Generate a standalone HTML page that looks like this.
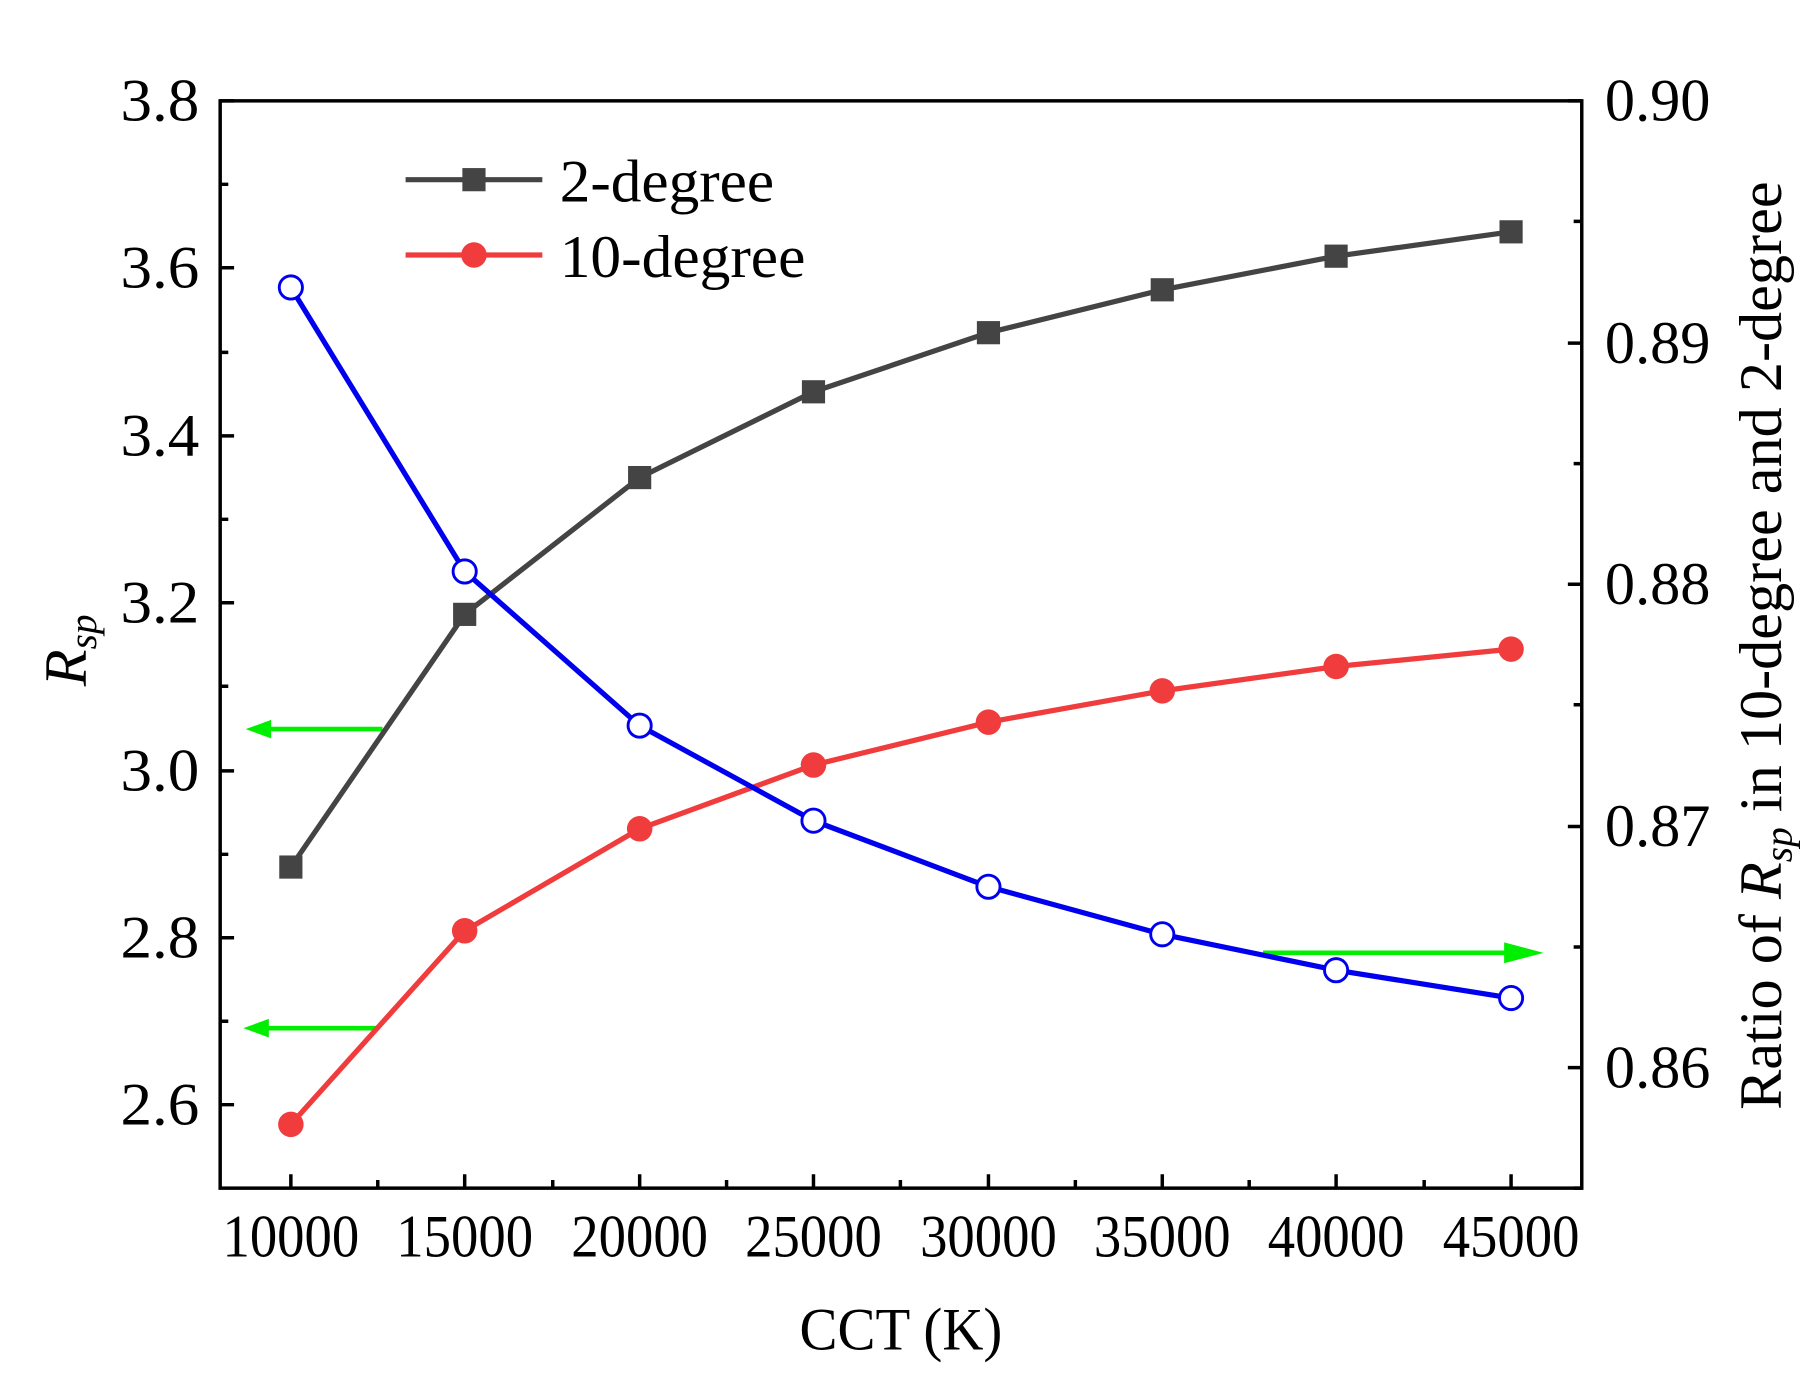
<!DOCTYPE html>
<html><head><meta charset="utf-8"><style>html,body{margin:0;padding:0;background:#fff}svg{display:block}text{font-family:"Liberation Serif",serif;fill:#000}</style></head>
<body>
<svg width="1817" height="1391" viewBox="0 0 1568 1200" preserveAspectRatio="none" xmlns="http://www.w3.org/2000/svg">
<rect width="1568" height="1200" fill="#fff"/>
<g stroke="#000" stroke-width="3" fill="none">
<rect x="190" y="87" width="1175" height="938"/>
<path d="M190 87h12M190 231h12M190 376h12M190 520h12M190 665h12M190 809h12M190 953h12M190 159h7M190 304h7M190 448h7M190 592h7M190 737h7M190 881h7"/>
<path d="M1365 87h-12M1365 296h-12M1365 504h-12M1365 713h-12M1365 921h-12M1365 191h-7M1365 400h-7M1365 608h-7M1365 817h-7M1365 1025h-7"/>
<path d="M251 1025v-12M401 1025v-12M552 1025v-12M702 1025v-12M853 1025v-12M1003 1025v-12M1153 1025v-12M1304 1025v-12M326 1025v-7M477 1025v-7M627 1025v-7M777 1025v-7M928 1025v-7M1078 1025v-7M1229 1025v-7"/>
</g>
<g font-size="52">
<text x="104" y="104" textLength="68" lengthAdjust="spacingAndGlyphs">3.8</text><text x="104" y="248" textLength="68" lengthAdjust="spacingAndGlyphs">3.6</text><text x="104" y="393" textLength="68" lengthAdjust="spacingAndGlyphs">3.4</text><text x="104" y="537" textLength="68" lengthAdjust="spacingAndGlyphs">3.2</text><text x="104" y="682" textLength="68" lengthAdjust="spacingAndGlyphs">3.0</text><text x="104" y="826" textLength="68" lengthAdjust="spacingAndGlyphs">2.8</text><text x="104" y="970" textLength="68" lengthAdjust="spacingAndGlyphs">2.6</text>
<text x="1385" y="104" textLength="91" lengthAdjust="spacingAndGlyphs">0.90</text><text x="1385" y="313" textLength="91" lengthAdjust="spacingAndGlyphs">0.89</text><text x="1385" y="521" textLength="91" lengthAdjust="spacingAndGlyphs">0.88</text><text x="1385" y="730" textLength="91" lengthAdjust="spacingAndGlyphs">0.87</text><text x="1385" y="938" textLength="91" lengthAdjust="spacingAndGlyphs">0.86</text>
<text x="192" y="1084" textLength="118" lengthAdjust="spacingAndGlyphs">10000</text><text x="342" y="1084" textLength="118" lengthAdjust="spacingAndGlyphs">15000</text><text x="493" y="1084" textLength="118" lengthAdjust="spacingAndGlyphs">20000</text><text x="643" y="1084" textLength="118" lengthAdjust="spacingAndGlyphs">25000</text><text x="794" y="1084" textLength="118" lengthAdjust="spacingAndGlyphs">30000</text><text x="944" y="1084" textLength="118" lengthAdjust="spacingAndGlyphs">35000</text><text x="1094" y="1084" textLength="118" lengthAdjust="spacingAndGlyphs">40000</text><text x="1245" y="1084" textLength="118" lengthAdjust="spacingAndGlyphs">45000</text>
<text x="690" y="1164" textLength="175" lengthAdjust="spacingAndGlyphs">CCT (K)</text>
</g>
<text font-size="52" transform="translate(74,592) rotate(-90)"><tspan font-style="italic">R</tspan><tspan font-style="italic" font-size="34" dy="9">sp</tspan></text>
<text font-size="52" text-anchor="middle" transform="translate(1537,557) rotate(-90)">Ratio of <tspan font-style="italic">R</tspan><tspan font-style="italic" font-size="34" dy="9">sp</tspan><tspan dy="-9"> in 10-degree and 2-degree</tspan></text>
<g stroke="#00ee00" stroke-width="4" fill="#00ee00">
<path d="M330 629H225"/><path d="M212 629l22-8v16z" stroke="none"/>
<path d="M325 887H223"/><path d="M210 887l22-8v16z" stroke="none"/>
<path d="M1090 822H1318"/><path d="M1332 822l-34-9v18z" stroke="none"/>
</g>
<polyline fill="none" stroke="#444" stroke-width="4.5" points="251,748 401,530 552,412 702,338 853,287 1003,250 1153,221 1304,200"/>
<g fill="#444"><rect x="241" y="738" width="20" height="20"/><rect x="391" y="520" width="20" height="20"/><rect x="542" y="402" width="20" height="20"/><rect x="692" y="328" width="20" height="20"/><rect x="843" y="277" width="20" height="20"/><rect x="993" y="240" width="20" height="20"/><rect x="1143" y="211" width="20" height="20"/><rect x="1294" y="190" width="20" height="20"/></g>
<polyline fill="none" stroke="#f03c3c" stroke-width="4.5" points="251,970 401,803 552,715 702,660 853,623 1003,596 1153,575 1304,560"/>
<g fill="#f03c3c"><circle cx="251" cy="970" r="11"/><circle cx="401" cy="803" r="11"/><circle cx="552" cy="715" r="11"/><circle cx="702" cy="660" r="11"/><circle cx="853" cy="623" r="11"/><circle cx="1003" cy="596" r="11"/><circle cx="1153" cy="575" r="11"/><circle cx="1304" cy="560" r="11"/></g>
<polyline fill="none" stroke="#0000ee" stroke-width="4.5" points="251,248 401,493 552,626 702,708 853,765 1003,806 1153,837 1304,861"/>
<g fill="#fff" stroke="#0000ee" stroke-width="2.5"><circle cx="251" cy="248" r="10"/><circle cx="401" cy="493" r="10"/><circle cx="552" cy="626" r="10"/><circle cx="702" cy="708" r="10"/><circle cx="853" cy="765" r="10"/><circle cx="1003" cy="806" r="10"/><circle cx="1153" cy="837" r="10"/><circle cx="1304" cy="861" r="10"/></g>
<path d="M350 155H468" stroke="#444" stroke-width="4.5"/><rect x="399" y="145" width="20" height="20" fill="#444"/>
<text x="483" y="174" font-size="52" textLength="185" lengthAdjust="spacingAndGlyphs">2-degree</text>
<path d="M350 220H468" stroke="#f03c3c" stroke-width="4.5"/><circle cx="409" cy="220" r="11" fill="#f03c3c"/>
<text x="483" y="239" font-size="52" textLength="212" lengthAdjust="spacingAndGlyphs">10-degree</text>
</svg>
</body></html>
